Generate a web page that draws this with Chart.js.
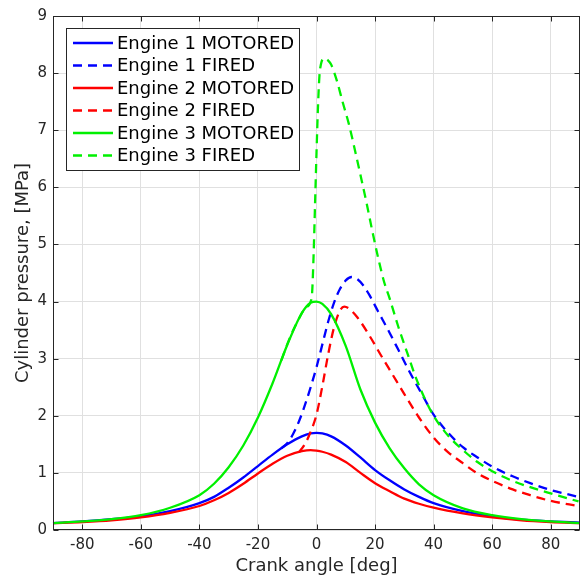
<!DOCTYPE html>
<html>
<head>
<meta charset="utf-8">
<script src="https://cdn.jsdelivr.net/npm/chart.js@4.4.1/dist/chart.umd.min.js"></script>
<style>
  html, body { margin: 0; padding: 0; background: #ffffff; }
  #wrap { width: 580px; height: 575px; }
</style>
</head>
<body>
<div id="wrap"><canvas id="c" width="580" height="575"></canvas></div>
<script>
// Axis ticks and ranges
const X_TICKS = [-80, -60, -40, -20, 0, 20, 40, 60, 80];
const Y_TICKS = [0, 1, 2, 3, 4, 5, 6, 7, 8, 9];
const X_RANGE = [-90, 90];
const Y_RANGE = [0, 9];

// Motored traces share one crank-angle grid [deg]
const MOTORED_ANGLE = [-90, -80, -70, -60, -50, -40, -35, -30, -25, -20, -15, -10, -5, -2, 0,
                       2, 5, 10, 15, 20, 25, 30, 35, 40, 50, 60, 70, 80, 90];
// Cylinder pressure [MPa]
const E1_MOTORED = [0.12, 0.15, 0.19, 0.24, 0.33, 0.47, 0.58, 0.74, 0.92, 1.12, 1.32, 1.50, 1.64, 1.69, 1.70,
                    1.69, 1.64, 1.48, 1.27, 1.05, 0.87, 0.71, 0.58, 0.47, 0.33, 0.24, 0.18, 0.15, 0.13];
const E2_MOTORED = [0.12, 0.14, 0.17, 0.22, 0.30, 0.42, 0.52, 0.65, 0.81, 0.99, 1.16, 1.30, 1.38, 1.40, 1.39,
                    1.37, 1.32, 1.19, 1.00, 0.82, 0.68, 0.55, 0.46, 0.39, 0.29, 0.22, 0.17, 0.14, 0.12];
const E3_MOTORED = [0.12, 0.15, 0.19, 0.26, 0.39, 0.61, 0.81, 1.10, 1.48, 1.97, 2.57, 3.24, 3.80, 3.98, 4.00,
                    3.96, 3.78, 3.22, 2.46, 1.88, 1.43, 1.08, 0.80, 0.61, 0.38, 0.26, 0.19, 0.15, 0.12];

// Fired traces, from the point where combustion lifts them off the motored curve
const E1_FIRED_ANGLE = [-12, -10, -8, -6, -4, -2, 0, 2, 4, 6, 8, 10, 12, 14, 16, 18, 21, 25, 28, 32,
                        36, 40, 45, 50, 55, 60, 67, 73, 80, 89.5];
const E1_FIRED = [1.43, 1.52, 1.68, 1.90, 2.18, 2.50, 2.85, 3.25, 3.65, 3.98, 4.22, 4.37, 4.43, 4.39, 4.28,
                  4.12, 3.83, 3.45, 3.15, 2.75, 2.38, 2.02, 1.70, 1.45, 1.27, 1.11, 0.94, 0.82, 0.70, 0.58];

const E2_FIRED_ANGLE = [-6, -4, -2, 0, 2, 4, 6, 8, 9.5, 11, 14, 18, 22, 26, 30, 35, 40, 45, 50, 55,
                        60, 67, 73, 80, 89.5];
const E2_FIRED = [1.36, 1.50, 1.72, 2.02, 2.52, 3.08, 3.55, 3.84, 3.91, 3.88, 3.72, 3.41, 3.06, 2.72, 2.38,
                  1.97, 1.62, 1.36, 1.17, 0.99, 0.86, 0.71, 0.61, 0.51, 0.42];

const E3_FIRED_ANGLE = [-12, -9, -6, -4, -2, -1.5, -1, -0.5, 0, 0.5, 1, 1.5, 2.5, 4, 5, 7, 9, 11, 13, 15,
                        17, 19, 21, 23, 25, 28, 31, 34, 37, 40, 45, 50, 55, 60, 67, 73, 80, 89.5];
const E3_FIRED = [2.97, 3.38, 3.70, 3.88, 4.00, 4.15, 4.80, 5.70, 6.60, 7.40, 7.95, 8.15, 8.26, 8.22, 8.15,
                  7.86, 7.48, 7.12, 6.68, 6.22, 5.75, 5.25, 4.78, 4.36, 4.05, 3.55, 3.10, 2.66, 2.30, 2.00,
                  1.65, 1.40, 1.19, 1.03, 0.86, 0.75, 0.64, 0.50];

const LABELS = ['Engine 1 MOTORED', 'Engine 1 FIRED', 'Engine 2 MOTORED',
                'Engine 2 FIRED', 'Engine 3 MOTORED', 'Engine 3 FIRED'];

const BLUE = '#0000ff', RED = '#ff0000', GREEN = '#00f000';
const AXIS_COLOR = '#262626';
const FONT = '"DejaVu Sans", sans-serif';
const DASH = [9, 6];

function pairs(xs, ys) { return xs.map((x, i) => ({ x: x, y: ys[i] })); }

function series(label, xs, ys, color, dashed, order) {
  return {
    label: label,
    data: pairs(xs, ys),
    borderColor: color,
    backgroundColor: color,
    borderWidth: 2.3,
    borderDash: dashed ? DASH : [],
    pointRadius: 0,
    fill: false,
    cubicInterpolationMode: 'monotone',
    order: order
  };
}

// Box around the axes with inward ticks on all four sides
const framePlugin = {
  id: 'frame',
  afterDatasetsDraw(chart) {
    const { ctx, chartArea: a, scales } = chart;
    const L = a.left + 0.5, R = a.right - 0.5, T = a.top + 0.5, B = a.bottom - 0.5;
    const tick = 5;
    ctx.save();
    ctx.strokeStyle = AXIS_COLOR;
    ctx.lineWidth = 1;
    ctx.setLineDash([]);
    ctx.strokeRect(L, T, R - L, B - T);
    ctx.beginPath();
    X_TICKS.forEach(v => {
      const px = Math.round(scales.x.getPixelForValue(v)) + 0.5;
      ctx.moveTo(px, B); ctx.lineTo(px, B - tick);
      ctx.moveTo(px, T); ctx.lineTo(px, T + tick);
    });
    Y_TICKS.forEach(v => {
      const py = Math.round(scales.y.getPixelForValue(v)) + 0.5;
      ctx.moveTo(L, py); ctx.lineTo(L + tick, py);
      ctx.moveTo(R, py); ctx.lineTo(R - tick, py);
    });
    ctx.stroke();
    ctx.restore();
  }
};

// Legend box inside the upper-left corner of the axes
const boxLegendPlugin = {
  id: 'boxLegend',
  afterDraw(chart) {
    const { ctx } = chart;
    const x0 = 66.5, y0 = 28.5, w = 233, h = 142;
    const rowTop = 43, rowGap = 22.5;
    ctx.save();
    ctx.fillStyle = '#ffffff';
    ctx.fillRect(x0, y0, w, h);
    ctx.strokeStyle = AXIS_COLOR;
    ctx.lineWidth = 1;
    ctx.strokeRect(x0, y0, w, h);
    ctx.font = '18px ' + FONT;
    ctx.textBaseline = 'middle';
    ctx.textAlign = 'left';
    chart.data.datasets.forEach((ds, i) => {
      const cy = rowTop + i * rowGap;
      ctx.beginPath();
      ctx.strokeStyle = ds.borderColor;
      ctx.lineWidth = ds.borderWidth;
      ctx.setLineDash(ds.borderDash.length ? DASH : []);
      ctx.moveTo(73, cy);
      ctx.lineTo(113, cy);
      ctx.stroke();
      ctx.setLineDash([]);
      ctx.fillStyle = '#000000';
      ctx.fillText(ds.label, 117, cy + 1);
    });
    ctx.restore();
  }
};

new Chart(document.getElementById('c'), {
  type: 'line',
  data: {
    datasets: [
      series(LABELS[0], MOTORED_ANGLE, E1_MOTORED, BLUE, false, 6),
      series(LABELS[1], E1_FIRED_ANGLE, E1_FIRED, BLUE, true, 5),
      series(LABELS[2], MOTORED_ANGLE, E2_MOTORED, RED, false, 4),
      series(LABELS[3], E2_FIRED_ANGLE, E2_FIRED, RED, true, 3),
      series(LABELS[4], MOTORED_ANGLE, E3_MOTORED, GREEN, false, 2),
      series(LABELS[5], E3_FIRED_ANGLE, E3_FIRED, GREEN, true, 1)
    ]
  },
  options: {
    responsive: false,
    animation: false,
    events: [],
    layout: { padding: { top: 16, right: 0, left: 0, bottom: 0 } },
    plugins: { legend: { display: false }, tooltip: { enabled: false } },
    scales: {
      x: {
        type: 'linear',
        bounds: 'data',
        suggestedMin: X_RANGE[0],
        suggestedMax: X_RANGE[1],
        afterBuildTicks: s => { s.ticks = X_TICKS.map(v => ({ value: v })); },
        afterFit: s => { s.height = 45; },
        grid: { color: '#e0e0e0', lineWidth: 1, drawTicks: false },
        border: { display: false },
        ticks: {
          color: AXIS_COLOR, padding: 6, maxRotation: 0, autoSkip: false,
          font: { family: FONT, size: 15 }
        },
        title: {
          display: true, text: 'Crank angle [deg]', color: AXIS_COLOR,
          font: { family: FONT, size: 18, lineHeight: 1 }, padding: { top: 0, bottom: 0 }
        }
      },
      y: {
        type: 'linear',
        bounds: 'data',
        suggestedMin: Y_RANGE[0],
        suggestedMax: Y_RANGE[1],
        afterBuildTicks: s => { s.ticks = Y_TICKS.map(v => ({ value: v })); },
        afterFit: s => { s.width = 53; },
        grid: { color: '#e0e0e0', lineWidth: 1, drawTicks: false },
        border: { display: false },
        ticks: {
          color: AXIS_COLOR, padding: 6, autoSkip: false,
          font: { family: FONT, size: 15 }
        },
        title: {
          display: true, text: 'Cylinder pressure, [MPa]', color: AXIS_COLOR,
          font: { family: FONT, size: 18, lineHeight: 1 }, padding: { top: 14, bottom: 0 }
        }
      }
    }
  },
  plugins: [framePlugin, boxLegendPlugin]
});
</script>
</body>
</html>
